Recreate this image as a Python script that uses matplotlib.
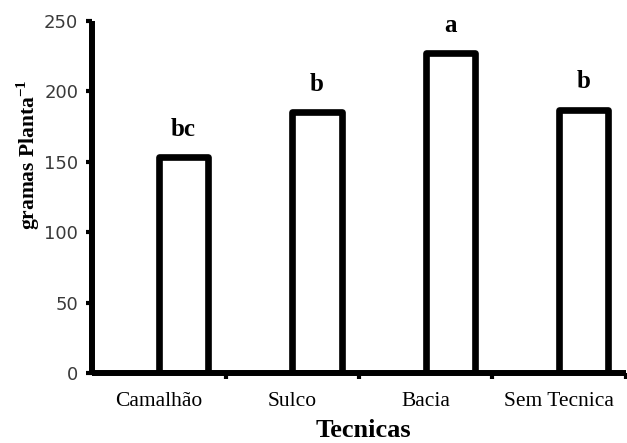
import matplotlib
matplotlib.use("Agg")
import matplotlib.pyplot as plt
from matplotlib.ticker import FixedLocator

tecnicas = ["Camalhão", "Sulco", "Bacia", "Sem Tecnica"]
gramas = [153, 185, 227, 187]
letras = ["bc", "b", "a", "b"]
y_ticks = [0, 50, 100, 150, 200, 250]

plt.rcParams["mathtext.fontset"] = "custom"
plt.rcParams["mathtext.rm"] = "Liberation Serif"
plt.rcParams["mathtext.bf"] = "Liberation Serif:bold"

fig = plt.figure(figsize=(6.27, 4.43), dpi=100)
ax = fig.add_axes([0.147, 0.158, 0.851, 0.795])

x = list(range(len(tecnicas)))
bars = ax.bar(x, gramas, width=0.37, align="edge", facecolor="white",
              edgecolor="black", linewidth=4.8, joinstyle="round")

for xi, val, lab in zip(x, gramas, letras):
    ax.annotate(lab, (xi + 0.185, val), xytext=(0, 12), textcoords="offset points",
                ha="center", va="bottom", fontsize=18, fontweight="bold",
                family="Liberation Serif")

ax.set_xlim(-0.5, len(tecnicas) - 0.5)
ax.set_ylim(0, 250)
ax.set_yticks(y_ticks)
ax.set_xticks(x)
ax.set_xticklabels(tecnicas, family="Liberation Serif", fontsize=15.5)
ax.xaxis.set_minor_locator(FixedLocator([i + 0.5 for i in x]))

ax.tick_params(axis="x", which="major", length=0, pad=14)
ax.tick_params(axis="x", which="minor", length=4, width=3, direction="out")
ax.tick_params(axis="y", length=4, width=3, direction="out", pad=6,
               labelsize=13, labelcolor="#3a3a3a")

for side in ("top", "right"):
    ax.spines[side].set_visible(False)
for side in ("left", "bottom"):
    ax.spines[side].set_linewidth(4.3)
    ax.spines[side].set_capstyle("butt")

fig.text(0.579, 0.002, "Tecnicas", ha="center", va="bottom", fontsize=19,
         fontweight="bold", family="Liberation Serif")
fig.text(0.045, 0.65, "gramas Planta$^{\\mathbf{-1}}$", rotation=90, ha="center",
         va="center", fontsize=15.5, fontweight="bold", family="Liberation Serif")

fig.savefig("out.png", dpi=100)
